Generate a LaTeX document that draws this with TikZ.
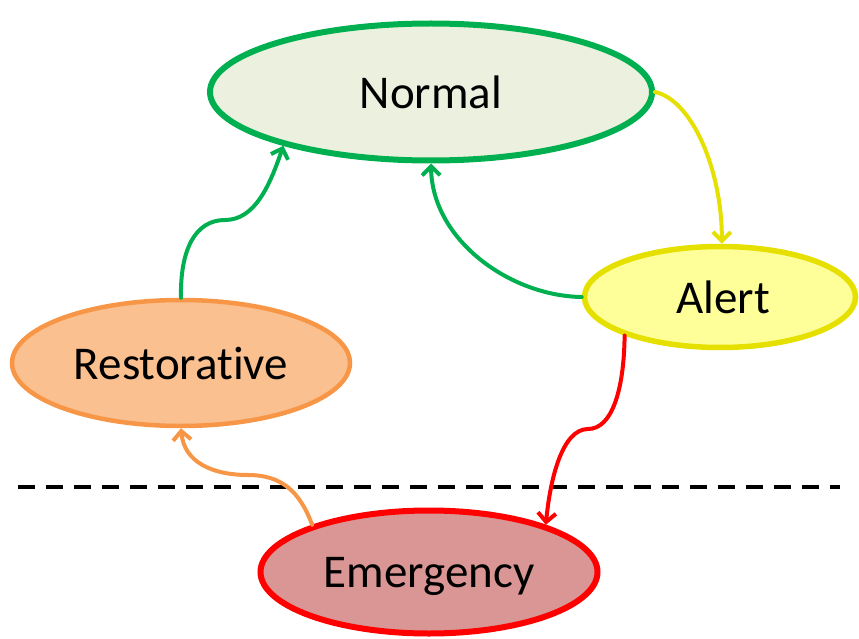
\documentclass[tikz,border=0pt]{standalone}
\usepackage{fontspec}
\setmainfont{Carlito}[Ligatures={NoCommon}]
\usetikzlibrary{arrows.meta,shapes.geometric}

\definecolor{okgreen}{HTML}{00B050}
\definecolor{okfill}{HTML}{EBF1DE}
\definecolor{alertline}{HTML}{E6E000}
\definecolor{alertfill}{HTML}{FFFF99}
\definecolor{restline}{HTML}{F79646}
\definecolor{restfill}{HTML}{FAC090}
\definecolor{emline}{HTML}{FF0000}
\definecolor{emfill}{HTML}{D99694}

\tikzset{
  state/.style={ellipse, inner sep=0pt, text depth=0pt,
    font=\fontsize{47}{56}\selectfont},
  link/.style={line width=4pt, line cap=round,
    -{Straight Barb[length=9pt,width=18pt,line width=4pt]}},
}

\begin{document}
\begin{tikzpicture}[x=1pt,y=-1pt]
  \useasboundingbox (0,0) rectangle (859,639);

  % states
  \node[state, draw=okgreen, fill=okfill, line width=6pt,
        minimum width=442pt, minimum height=137pt] (normal) at (431,92) {Normal};
  \node[state, draw=alertline, fill=alertfill, line width=5.5pt,
        minimum width=271pt, minimum height=101pt]
        (alert) at (720,297) {\hspace*{6pt}Alert};
  \node[state, draw=restline, fill=restfill, line width=4.5pt,
        minimum width=338pt, minimum height=126pt] (restorative) at (181,363) {Restorative};
  \node[state, draw=emline, fill=emfill, line width=6pt,
        minimum width=337pt, minimum height=123pt] (emergency) at (429,572) {Emergency};

  % boundary between secure and emergency operation
  \draw[line width=4pt, dash pattern=on 17pt off 11pt] (18,487) -- (840,487);

  % transitions
  \draw[link, alertline] (normal.east) .. controls (692,100) and (722,170) .. (alert.88);
  \draw[link, okgreen] (alert.west) .. controls (510,296) and (432,240) .. (normal.south);
  \draw[link, okgreen] (restorative.north) .. controls (180,250) and (195,220) .. (225,220)
                        .. controls (255,220) and (270,185) .. (normal.200);
  \draw[link, emline] (alert.202) .. controls (624,390) and (612,429) .. (588,429)
                       .. controls (562,429) and (550,480) .. (emergency.22);
  \draw[link, restline] (emergency.158) .. controls (300,492) and (282,475) .. (248,475)
                         .. controls (212,475) and (184,462) .. (restorative.south);
\end{tikzpicture}
\end{document}
